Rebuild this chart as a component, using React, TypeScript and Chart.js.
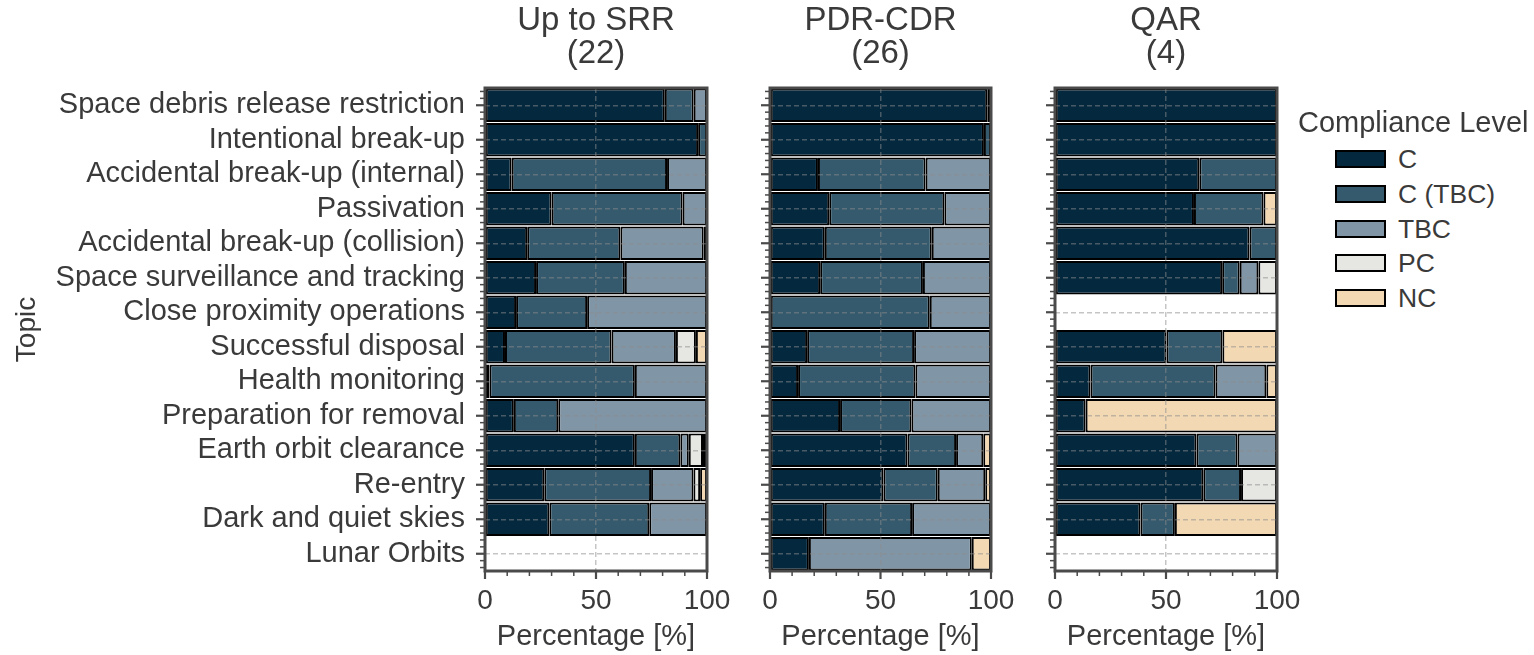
import React, { useEffect, useRef } from 'react';
import { Chart, registerables } from 'chart.js';

Chart.register(...registerables);

// ---------- data ----------
const topics = [
  'Space debris release restriction',
  'Intentional break-up',
  'Accidental break-up (internal)',
  'Passivation',
  'Accidental break-up (collision)',
  'Space surveillance and tracking',
  'Close proximity operations',
  'Successful disposal',
  'Health monitoring',
  'Preparation for removal',
  'Earth orbit clearance',
  'Re-entry',
  'Dark and quiet skies',
  'Lunar Orbits',
];

const levels = ['C', 'C (TBC)', 'TBC', 'PC', 'NC'];
const levelColors = ['#04293f', '#355a6d', '#8095a5', '#e6e6e3', '#f3d8b4'];

const panelTitles = [
  ['Up to SRR', '(22)'],
  ['PDR-CDR', '(26)'],
  ['QAR', '(4)'],
];

const xTickValues = [0, 50, 100];

// Up to SRR
const srrC = [81, 96, 12, 30, 19, 23, 14, 9, 2, 13, 67.5, 26.7, 29, 0];
const srrCTBC = [13, 4, 70, 59, 42, 40, 32, 48, 65.5, 20, 20.5, 48.1, 45, 0];
const srrTBC = [6, 0, 18, 11, 37.5, 37, 54, 29, 32.5, 67, 3.8, 19.1, 26, 0];
const srrPC = [0, 0, 0, 0, 1.5, 0, 0, 9, 0, 0, 6.4, 3, 0, 0];
const srrNC = [0, 0, 0, 0, 0, 0, 0, 5, 0, 0, 1.8, 3.1, 0, 0];

// PDR-CDR
const pdrC = [98.3, 96.8, 21.7, 26.8, 24.8, 22.7, 0, 16.8, 12.7, 31.7, 62.2, 51.3, 24.8, 17.6];
const pdrCTBC = [0, 3.2, 48.7, 52.1, 48.4, 46.5, 72.3, 48.4, 53.1, 32.3, 22, 24.6, 39.5, 0];
const pdrTBC = [1.7, 0, 29.6, 21.1, 26.8, 30.8, 27.7, 34.8, 34.2, 36, 12.3, 21.5, 35.7, 73.7];
const pdrPC = [0, 0, 0, 0, 0, 0, 0, 0, 0, 0, 0, 0, 0, 0];
const pdrNC = [0, 0, 0, 0, 0, 0, 0, 0, 0, 0, 3.5, 2.6, 0, 8.7];

// QAR
const qarC = [100, 100, 65, 62.6, 87.6, 75.3, 0, 50.2, 16, 13.8, 63.7, 66.8, 38.5, 0];
const qarCTBC = [0, 0, 35, 31.3, 12.4, 7.9, 0, 25.2, 56.3, 0, 18.5, 17, 15.5, 0];
const qarTBC = [0, 0, 0, 0, 0, 8.4, 0, 0, 22.9, 0, 17.8, 0, 0, 0];
const qarPC = [0, 0, 0, 0, 0, 8.4, 0, 0, 0, 0, 0, 16.2, 0, 0];
const qarNC = [0, 0, 0, 6.1, 0, 0, 0, 24.6, 4.8, 86.2, 0, 0, 46, 0];

const panelData = [
  [srrC, srrCTBC, srrTBC, srrPC, srrNC],
  [pdrC, pdrCTBC, pdrTBC, pdrPC, pdrNC],
  [qarC, qarCTBC, qarTBC, qarPC, qarNC],
];

// ---------- styling ----------
const FONT = '"Liberation Sans", Arial, Helvetica, sans-serif';
const TEXT = '#3a3a3a';
const FRAME = '#4a4a4a';
const GRID = 'rgba(140,140,140,0.5)';

// canvas placement: [canvasLeft, canvasWidth, yAxisWidth, rightPad]
const panelGeom = [
  [0, 740, 485, 33],
  [740, 285, 30, 34],
  [1025, 285, 30, 33],
];
const CANVAS_H = 655;

const frameTicksPlugin = {
  id: 'frameTicks',
  afterDraw(chart: any) {
    const { ctx, chartArea: a } = chart;
    const x = chart.scales.x;
    const y = chart.scales.y;
    ctx.save();
    ctx.strokeStyle = FRAME;
    // x ticks: major at 0/50/100, minor every 10
    for (let v = 0; v <= 100; v += 10) {
      const px = x.getPixelForValue(v);
      const major = xTickValues.includes(v);
      ctx.lineWidth = major ? 2.2 : 1.5;
      ctx.beginPath();
      ctx.moveTo(px, a.bottom);
      ctx.lineTo(px, a.bottom + (major ? 8 : 5));
      ctx.stroke();
    }
    // y ticks: major at categories, minor every 0.2
    const n = topics.length;
    for (let k = -2; k <= (n - 1) * 5 + 2; k++) {
      const v = k / 5;
      const py = y.getPixelForValue(v);
      if (py < a.top || py > a.bottom) continue;
      const major = k % 5 === 0;
      ctx.lineWidth = major ? 2.2 : 1.5;
      ctx.beginPath();
      ctx.moveTo(a.left, py);
      ctx.lineTo(a.left - (major ? 9 : 5), py);
      ctx.stroke();
    }
    // frame
    ctx.lineWidth = 3;
    ctx.strokeRect(a.left, a.top, a.right - a.left, a.bottom - a.top);
    ctx.restore();
  },
};

function makeConfig(idx: number): any {
  const data = panelData[idx];
  const [, , yWidth, rightPad] = panelGeom[idx];
  return {
    type: 'bar',
    data: {
      labels: topics,
      datasets: levels.map((lv, i) => ({
        label: lv,
        data: data[i],
        backgroundColor: levelColors[i],
        borderColor: '#000000',
        borderWidth: 2,
        borderSkipped: false,
        barPercentage: 1,
        categoryPercentage: 0.97,
      })),
    },
    options: {
      indexAxis: 'y',
      animation: false,
      responsive: false,
      maintainAspectRatio: false,
      layout: { padding: { left: 0, right: rightPad, top: 0, bottom: 0 } },
      plugins: {
        legend: { display: false },
        tooltip: { enabled: false },
        title: {
          display: true,
          text: panelTitles[idx],
          fullSize: false,
          color: TEXT,
          font: { family: FONT, size: 33, weight: 'normal', lineHeight: 1.0 },
          padding: { top: 4.5, bottom: 17.5 },
        },
      },
      scales: {
        x: {
          type: 'linear',
          stacked: true,
          min: 0,
          max: 100,
          ticks: {
            stepSize: 50,
            color: TEXT,
            font: { family: FONT, size: 28 },
            padding: 13,
            maxRotation: 0,
          },
          grid: { z: 1, drawTicks: false, color: GRID, lineWidth: 1.5 },
          border: { display: false, dash: [5, 3] },
          title: {
            display: true,
            text: 'Percentage [%]',
            color: TEXT,
            font: { family: FONT, size: 29 },
            padding: { top: 0, bottom: 1 },
          },
          afterFit(s: any) {
            s.height = 84;
            s.paddingLeft = 0;
            s.paddingRight = 0;
          },
        },
        y: {
          type: 'category',
          stacked: true,
          ticks: {
            display: idx === 0,
            autoSkip: false,
            color: TEXT,
            font: { family: FONT, size: 29 },
            padding: 20,
          },
          grid: { z: 1, drawTicks: false, offset: false, color: GRID, lineWidth: 1.5 },
          border: { display: false, dash: [5, 3] },
          title: {
            display: idx === 0,
            text: 'Topic',
            color: TEXT,
            font: { family: FONT, size: 28 },
            padding: { top: 10, bottom: 0 },
          },
          afterFit(s: any) {
            s.width = yWidth;
            s.paddingTop = 0;
            s.paddingBottom = 0;
          },
        },
      },
    },
    plugins: [frameTicksPlugin],
  };
}

function Panel({ idx }: { idx: number }) {
  const ref = useRef<HTMLCanvasElement>(null);
  useEffect(() => {
    if (!ref.current) return;
    const chart = new Chart(ref.current, makeConfig(idx));
    return () => chart.destroy();
  }, [idx]);
  const [left, width] = panelGeom[idx];
  return (
    <canvas
      ref={ref}
      width={width}
      height={CANVAS_H}
      style={{ position: 'absolute', left, top: 0, width, height: CANVAS_H, display: 'block' }}
    />
  );
}

function Legend() {
  const firstY = 159;
  const step = 34.8;
  return (
    <div style={{ position: 'absolute', left: 0, top: 0, fontFamily: FONT, color: TEXT }}>
      <div
        style={{
          position: 'absolute',
          left: 1298,
          top: 122 - 17,
          fontSize: 29,
          lineHeight: '34px',
          whiteSpace: 'nowrap',
        }}
      >
        Compliance Level
      </div>
      {levels.map((lv, i) => {
        const cy = firstY + step * i;
        return (
          <React.Fragment key={lv}>
            <div
              style={{
                position: 'absolute',
                left: 1335,
                top: cy - 9,
                width: 51,
                height: 18,
                boxSizing: 'border-box',
                border: '2px solid #000',
                background: levelColors[i],
              }}
            />
            <div
              style={{
                position: 'absolute',
                left: 1398,
                top: cy - 15,
                fontSize: 26.5,
                lineHeight: '30px',
                whiteSpace: 'nowrap',
              }}
            >
              {lv}
            </div>
          </React.Fragment>
        );
      })}
    </div>
  );
}

export default function App() {
  return (
    <div
      style={{
        position: 'absolute',
        left: 0,
        top: 0,
        width: 1534,
        height: 655,
        background: '#ffffff',
        overflow: 'hidden',
      }}
    >
      <Panel idx={0} />
      <Panel idx={1} />
      <Panel idx={2} />
      <Legend />
    </div>
  );
}
